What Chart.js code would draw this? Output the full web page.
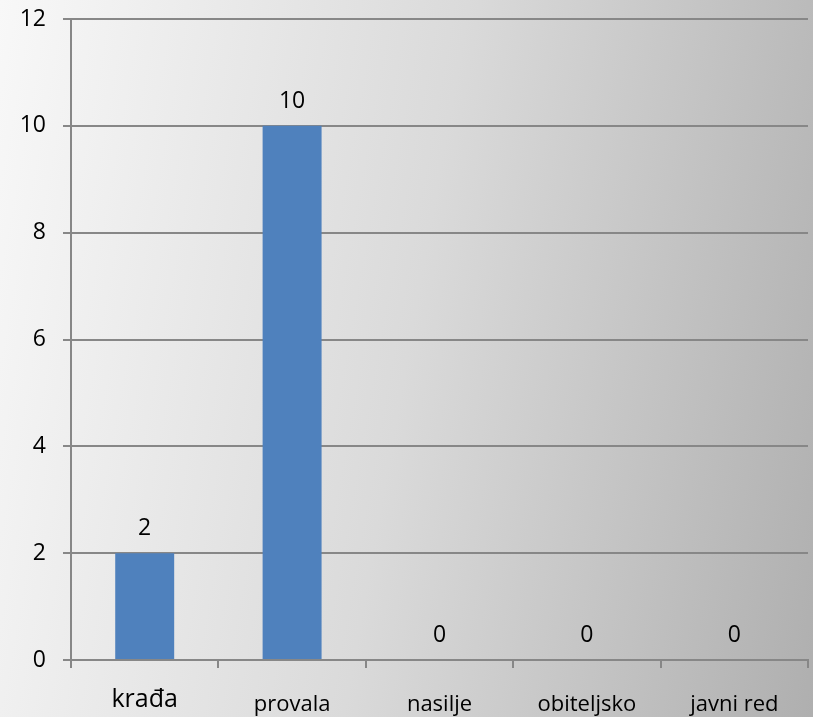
<!DOCTYPE html>
<html>
<head>
<meta charset="utf-8">
<script src="https://cdn.jsdelivr.net/npm/chart.js@4/dist/chart.umd.min.js"></script>
<style>
  html, body { margin: 0; padding: 0; width: 813px; height: 717px; overflow: hidden; }
  body { background: linear-gradient(100deg, #f8f8f8 0%, #dadada 50%, #afafaf 100%); }
  #wrap { position: absolute; left: 0; top: 0; width: 813px; height: 717px; }
</style>
</head>
<body>
<div id="wrap"><canvas id="c" width="813" height="717"></canvas></div>
<script>
const categories = ['krađa', 'provala', 'nasilje', 'obiteljsko', 'javni red'];
const values = [2, 10, 0, 0, 0];
const yMin = 0;
const yMax = 12;
const yStep = 2;

const FONT = "'Open Sans', sans-serif";
const GRID = '#878787';

const valueLabels = {
  id: 'valueLabels',
  afterDatasetsDraw(chart) {
    const ctx = chart.ctx;
    const meta = chart.getDatasetMeta(0);
    ctx.save();
    ctx.font = "23px 'Open Sans', sans-serif";
    ctx.fillStyle = '#000';
    ctx.textAlign = 'center';
    ctx.textBaseline = 'alphabetic';
    meta.data.forEach((el, i) => {
      ctx.fillText(String(chart.data.datasets[0].data[i]), el.x, el.y - 18);
    });
    ctx.restore();
  }
};

new Chart(document.getElementById('c'), {
  type: 'bar',
  data: {
    labels: categories,
    datasets: [{
      data: values,
      backgroundColor: '#4f81bd',
      borderWidth: 0,
      categoryPercentage: 0.8,
      barPercentage: 0.5
    }]
  },
  options: {
    responsive: false,
    animation: false,
    layout: { padding: { left: 0, right: 5, top: 19, bottom: 0 } },
    plugins: { legend: { display: false }, tooltip: { enabled: false } },
    scales: {
      y: {
        min: yMin,
        max: yMax,
        ticks: { stepSize: yStep, color: '#000', font: { family: FONT, size: 23 }, padding: 17 },
        grid: { color: GRID, lineWidth: 2, tickLength: 8 },
        border: { display: true, color: GRID, width: 2 },
        afterFit(scale) { scale.width = 71; scale.paddingTop = 0; scale.paddingBottom = 0; }
      },
      x: {
        ticks: {
          color: '#000',
          padding: 24,
          font(ctx) {
            return ctx.index === 0
              ? { family: FONT, size: 25, lineHeight: 0.6 }
              : { family: FONT, size: 22, lineHeight: 1.2 };
          }
        },
        grid: { offset: true, drawOnChartArea: false, color: GRID, lineWidth: 2, tickLength: 8 },
        border: { display: true, color: GRID, width: 2 },
        afterFit(scale) { scale.height = 57; }
      }
    }
  },
  plugins: [valueLabels]
});
</script>
</body>
</html>
